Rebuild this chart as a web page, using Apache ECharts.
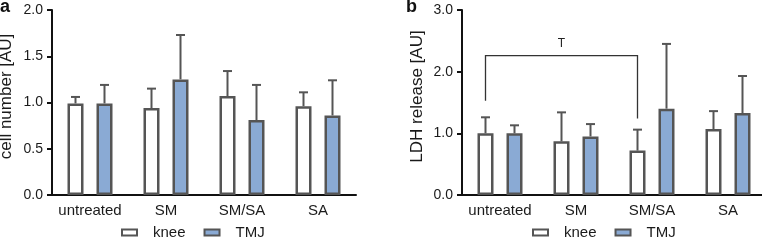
<!DOCTYPE html>
<html>
<head>
<meta charset="utf-8">
<script src="https://cdn.jsdelivr.net/npm/echarts@6/dist/echarts.min.js"></script>
<style>
html,body{margin:0;padding:0;background:#fff;}
#a,#b{position:absolute;top:0;width:381px;height:241px;}
#a{left:0;} #b{left:381px;}
</style>
</head>
<body>
<div id="a"></div><div id="b"></div>
<script>
const categories = ['untreated', 'SM', 'SM/SA', 'SA'];
const seriesNames = ['knee', 'TMJ'];
// panel a: cell number [AU]
const cellKnee = [0.99, 0.94, 1.07, 0.96];
const cellKneeErr = [1.06, 1.15, 1.34, 1.11];
const cellTMJ = [0.99, 1.25, 0.81, 0.86];
const cellTMJErr = [1.19, 1.73, 1.19, 1.24];
const cellTicks = [0, 0.5, 1.0, 1.5, 2.0];
// panel b: LDH release [AU]
const ldhKnee = [1.00, 0.87, 0.72, 1.07];
const ldhKneeErr = [1.26, 1.34, 1.06, 1.36];
const ldhTMJ = [1.00, 0.95, 1.40, 1.33];
const ldhTMJErr = [1.13, 1.15, 2.45, 1.93];
const ldhTicks = [0, 1.0, 2.0, 3.0];
// significance bracket in panel b: from knee 'untreated' to knee 'SM/SA'
const bracket = {from: 0, to: 2, top: 2.26, leftEnd: 1.53, rightEnd: 1.24, label: 'T'};

const FONT = 'Liberation Sans, Arial, sans-serif';
const EDGE = '#555555';
const BLUE = '#8aaad4';
const TXT = '#1a1a1a';
const BAR_W = 16, GAP = 13;
const OFF = (BAR_W + GAP) / 2;

function errSeries(vals, tops, offset) {
  return {
    type: 'custom',
    silent: true,
    z: 1,
    data: vals.map((v, i) => [i, v, tops[i]]),
    renderItem: function (params, api) {
      const p0 = api.coord([api.value(0), api.value(1)]);
      const p1 = api.coord([api.value(0), api.value(2)]);
      const x = p0[0] + offset;
      const st = {stroke: EDGE, lineWidth: 2};
      return {type: 'group', children: [
        {type: 'line', shape: {x1: x, y1: p0[1], x2: x, y2: p1[1]}, style: st},
        {type: 'line', shape: {x1: x - 4.5, y1: p1[1], x2: x + 4.5, y2: p1[1]}, style: st}
      ]};
    }
  };
}

function makeChart(el, opts) {
  const chart = echarts.init(document.getElementById(el), null, {renderer: 'canvas'});
  const series = [
    {name: seriesNames[0], type: 'bar', data: opts.knee, barWidth: BAR_W, barGap: (GAP / BAR_W * 100) + '%',
     itemStyle: {color: '#ffffff', borderColor: EDGE, borderWidth: 2.5}, z: 2, silent: true},
    {name: seriesNames[1], type: 'bar', data: opts.tmj, barWidth: BAR_W,
     itemStyle: {color: BLUE, borderColor: EDGE, borderWidth: 2.5}, z: 2, silent: true},
    errSeries(opts.knee, opts.kneeErr, -OFF),
    errSeries(opts.tmj, opts.tmjErr, OFF)
  ];
  if (opts.bracket) {
    const b = opts.bracket;
    series.push({
      type: 'custom', silent: true, z: 3,
      data: [[b.from, b.to, b.top, b.leftEnd, b.rightEnd]],
      renderItem: function (params, api) {
        const l = api.coord([api.value(0), api.value(2)]);
        const r = api.coord([api.value(1), api.value(2)]);
        const le = api.coord([api.value(0), api.value(3)]);
        const re = api.coord([api.value(1), api.value(4)]);
        const xl = l[0] - OFF, xr = r[0] - OFF;
        const st = {stroke: '#333', lineWidth: 1.3, fill: null};
        return {type: 'group', children: [
          {type: 'polyline', shape: {points: [[xl, le[1]], [xl, l[1]], [xr, r[1]], [xr, re[1]]]}, style: st},
          {type: 'text', style: {text: b.label, x: (xl + xr) / 2, y: l[1] - 6, align: 'center', verticalAlign: 'bottom',
            font: '12px ' + FONT, fill: '#222'}}
        ]};
      }
    });
  }
  chart.setOption({
    animation: false,
    title: {text: opts.panel, left: opts.panelLeft, top: -2, padding: 0,
      textStyle: {fontFamily: FONT, fontSize: 18, fontWeight: 'bold', color: '#111'}},
    legend: {
      top: 225, left: opts.legendLeft, itemWidth: 15, itemHeight: 6, itemGap: 18, padding: 0,
      textStyle: {fontFamily: FONT, fontSize: 15, color: TXT, padding: [0, 0, 0, 11]},
      data: [
        {name: seriesNames[0], icon: 'rect', itemStyle: {color: '#fff', borderColor: EDGE, borderWidth: 2}},
        {name: seriesNames[1], icon: 'rect', itemStyle: {color: BLUE, borderColor: EDGE, borderWidth: 2}}
      ],
      selectedMode: false
    },
    grid: {left: opts.gridLeft, top: 10, width: 304, height: 185, containLabel: false, outerBoundsMode: 'none'},
    xAxis: {
      type: 'category', data: categories,
      axisLine: {lineStyle: {color: '#111', width: 2}},
      axisTick: {show: false},
      axisLabel: {fontFamily: FONT, fontSize: 15, color: TXT, margin: 8, interval: 0}
    },
    yAxis: {
      type: 'value', min: 0, max: opts.ticks[opts.ticks.length - 1], interval: opts.ticks[1] - opts.ticks[0],
      name: opts.yName, nameLocation: 'middle', nameGap: opts.nameGap, nameMoveOverlap: false,
      nameTextStyle: {fontFamily: FONT, fontSize: 17, color: TXT, padding: [0, 0, 0, 12]},
      splitLine: {show: false},
      axisLine: {show: true, lineStyle: {color: '#111', width: 2}},
      axisTick: {show: true, length: 5, lineStyle: {color: '#111', width: 2}},
      axisLabel: {fontFamily: FONT, fontSize: 14, color: TXT, margin: 9,
        formatter: v => v.toFixed(1)}
    },
    series: series
  });
}

makeChart('a', {panel: 'a', panelLeft: 0, gridLeft: 52, legendLeft: 121, yName: 'cell number [AU]', nameGap: 37,
  knee: cellKnee, kneeErr: cellKneeErr, tmj: cellTMJ, tmjErr: cellTMJErr, ticks: cellTicks});
makeChart('b', {panel: 'b', panelLeft: 25, gridLeft: 81, legendLeft: 151, yName: 'LDH release [AU]', nameGap: 36,
  knee: ldhKnee, kneeErr: ldhKneeErr, tmj: ldhTMJ, tmjErr: ldhTMJErr, ticks: ldhTicks, bracket: bracket});
</script>
</body>
</html>
